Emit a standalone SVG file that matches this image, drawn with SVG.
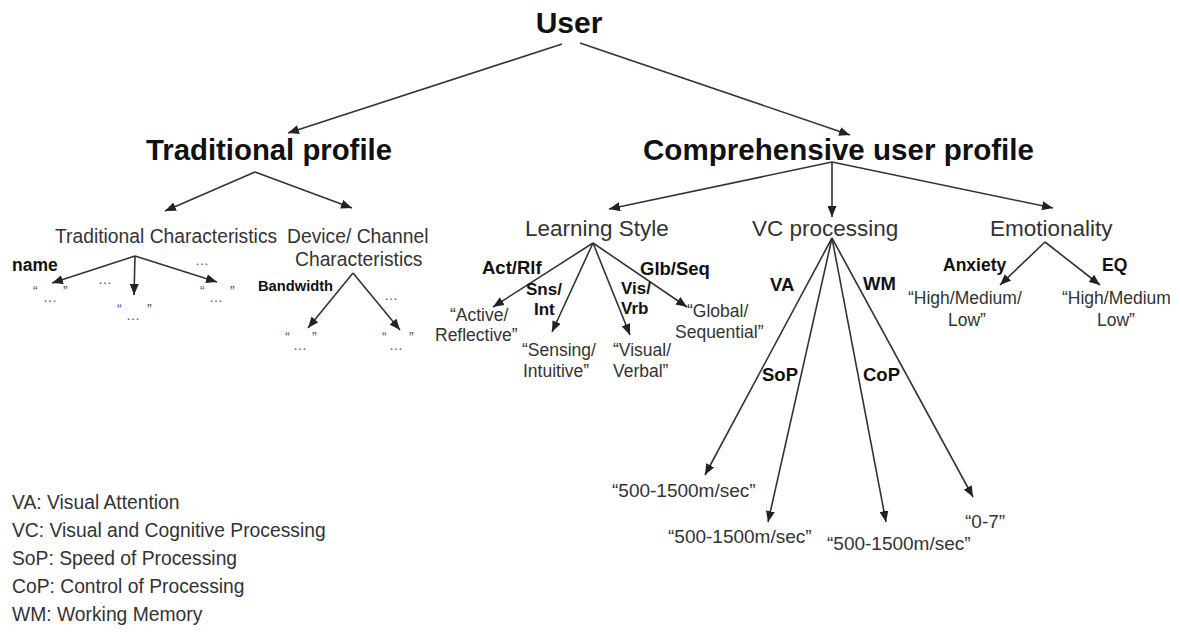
<svg xmlns="http://www.w3.org/2000/svg" width="1180" height="632" viewBox="0 0 1180 632">
<defs>
<marker id="ah" markerUnits="userSpaceOnUse" markerWidth="11" markerHeight="9" refX="11" refY="4.5" orient="auto">
<path d="M0,0 L11,4.5 L0,9 z" fill="#222"/>
</marker>
<style>
text{font-family:"Liberation Sans",Arial,sans-serif;fill:#333}
.big{font-size:30px;font-weight:bold;fill:#111}
.mid{font-size:22.5px}
.sub{font-size:19.3px}
.b{font-weight:bold;fill:#111}
.val{font-size:17.5px}
.num{font-size:19px}
.q{font-size:14px;fill:#555}
.leg{font-size:19.3px}
.c line{stroke:#333;stroke-width:1.6;marker-end:url(#ah)}
</style>
</defs>
<rect width="1180" height="632" fill="#fff"/>
<g class="c" id="connectors">
<line x1="562" y1="44" x2="288" y2="133"/>
<line x1="580" y1="43" x2="850" y2="135"/>
<line x1="255" y1="172" x2="165" y2="211"/>
<line x1="255" y1="172" x2="352" y2="208"/>
<line x1="832" y1="162" x2="609" y2="209"/>
<line x1="832" y1="162" x2="832" y2="217"/>
<line x1="832" y1="162" x2="1053" y2="208"/>
<line x1="135" y1="256" x2="52" y2="283"/>
<line x1="135" y1="256" x2="134" y2="295"/>
<line x1="135" y1="256" x2="217" y2="282"/>
<line x1="353" y1="273" x2="308" y2="328"/>
<line x1="353" y1="273" x2="400" y2="330"/>
<line x1="593" y1="243" x2="493" y2="307"/>
<line x1="593" y1="243" x2="552" y2="332"/>
<line x1="593" y1="243" x2="630" y2="335"/>
<line x1="593" y1="243" x2="687" y2="307"/>
<line x1="832" y1="238" x2="705" y2="475"/>
<line x1="832" y1="238" x2="768" y2="522"/>
<line x1="832" y1="238" x2="886" y2="522"/>
<line x1="832" y1="238" x2="973" y2="497"/>
<line x1="1045" y1="242" x2="1000" y2="285"/>
<line x1="1045" y1="242" x2="1100" y2="285"/>
</g>
<g id="user"><text class="big" x="569" y="33" text-anchor="middle">User</text></g>
<g id="traditional-profile"><text class="big" x="146" y="160" textLength="246" lengthAdjust="spacingAndGlyphs">Traditional profile</text></g>
<g id="comprehensive-profile"><text class="big" x="643" y="160" textLength="391" lengthAdjust="spacingAndGlyphs">Comprehensive user profile</text></g>
<g id="traditional-characteristics"><text class="sub" x="55" y="243">Traditional Characteristics</text></g>
<g id="device-channel"><text class="sub" x="287" y="243">Device/ Channel</text><text class="sub" x="295" y="266">Characteristics</text></g>
<g id="trad-leaves">
<text class="b" x="12" y="271" font-size="17.5">name</text>
<text class="q" x="98" y="284">…</text>
<text class="q" x="195" y="265">…</text>
<text class="q" x="33" y="296">“</text><text class="q" x="63" y="296">”</text><text class="q" x="43" y="302">…</text>
<text class="q" x="117" y="314">“</text><text class="q" x="147" y="314">”</text><text class="q" x="126" y="320">…</text>
<text class="q" x="200" y="296">“</text><text class="q" x="230" y="296">”</text><text class="q" x="209" y="302">…</text>
</g>
<g id="device-leaves">
<text class="b" x="258" y="291" font-size="14.7">Bandwidth</text>
<text class="q" x="384" y="300">…</text>
<text class="q" x="285" y="342">“</text><text class="q" x="312" y="342">”</text><text class="q" x="293" y="350">…</text>
<text class="q" x="382" y="342">“</text><text class="q" x="409" y="342">”</text><text class="q" x="389" y="350">…</text>
</g>
<g id="learning-style">
<text class="mid" x="525" y="236">Learning Style</text>
<text class="b" x="482" y="274" font-size="18.5">Act/Rlf</text>
<text class="b" x="526" y="295" font-size="17">Sns/</text>
<text class="b" x="534" y="315" font-size="17">Int</text>
<text class="b" x="621" y="294" font-size="17">Vis/</text>
<text class="b" x="621" y="314" font-size="17">Vrb</text>
<text class="b" x="640" y="275" font-size="18.5">Glb/Seq</text>
<text class="val" x="450" y="321">“Active/</text>
<text class="val" x="435" y="341">Reflective”</text>
<text class="val" x="522" y="356">“Sensing/</text>
<text class="val" x="523" y="377">Intuitive”</text>
<text class="val" x="613" y="356">“Visual/</text>
<text class="val" x="613" y="377">Verbal”</text>
<text class="val" x="687" y="317">“Global/</text>
<text class="val" x="675" y="338">Sequential”</text>
</g>
<g id="vc-processing">
<text class="mid" x="752" y="236">VC processing</text>
<text class="b" x="770" y="291" font-size="18.5">VA</text>
<text class="b" x="863" y="290" font-size="18.5">WM</text>
<text class="b" x="762" y="381" font-size="18.5">SoP</text>
<text class="b" x="863" y="381" font-size="18.5">CoP</text>
<text class="num" x="612" y="497">“500-1500m/sec”</text>
<text class="num" x="668" y="543">“500-1500m/sec”</text>
<text class="num" x="827" y="550">“500-1500m/sec”</text>
<text class="num" x="965" y="528">“0-7”</text>
</g>
<g id="emotionality">
<text class="mid" x="990" y="236">Emotionality</text>
<text class="b" x="943" y="271" font-size="17.5">Anxiety</text>
<text class="b" x="1102" y="271" font-size="17.5">EQ</text>
<text class="val" x="908" y="304">“High/Medium/</text>
<text class="val" x="948" y="326">Low”</text>
<text class="val" x="1062" y="304">“High/Medium</text>
<text class="val" x="1097" y="326">Low”</text>
</g>
<g id="legend">
<text class="leg" x="12" y="509">VA: Visual Attention</text>
<text class="leg" x="12" y="537">VC: Visual and Cognitive Processing</text>
<text class="leg" x="12" y="565">SoP: Speed of Processing</text>
<text class="leg" x="12" y="593">CoP: Control of Processing</text>
<text class="leg" x="12" y="621">WM: Working Memory</text>
</g>
</svg>
